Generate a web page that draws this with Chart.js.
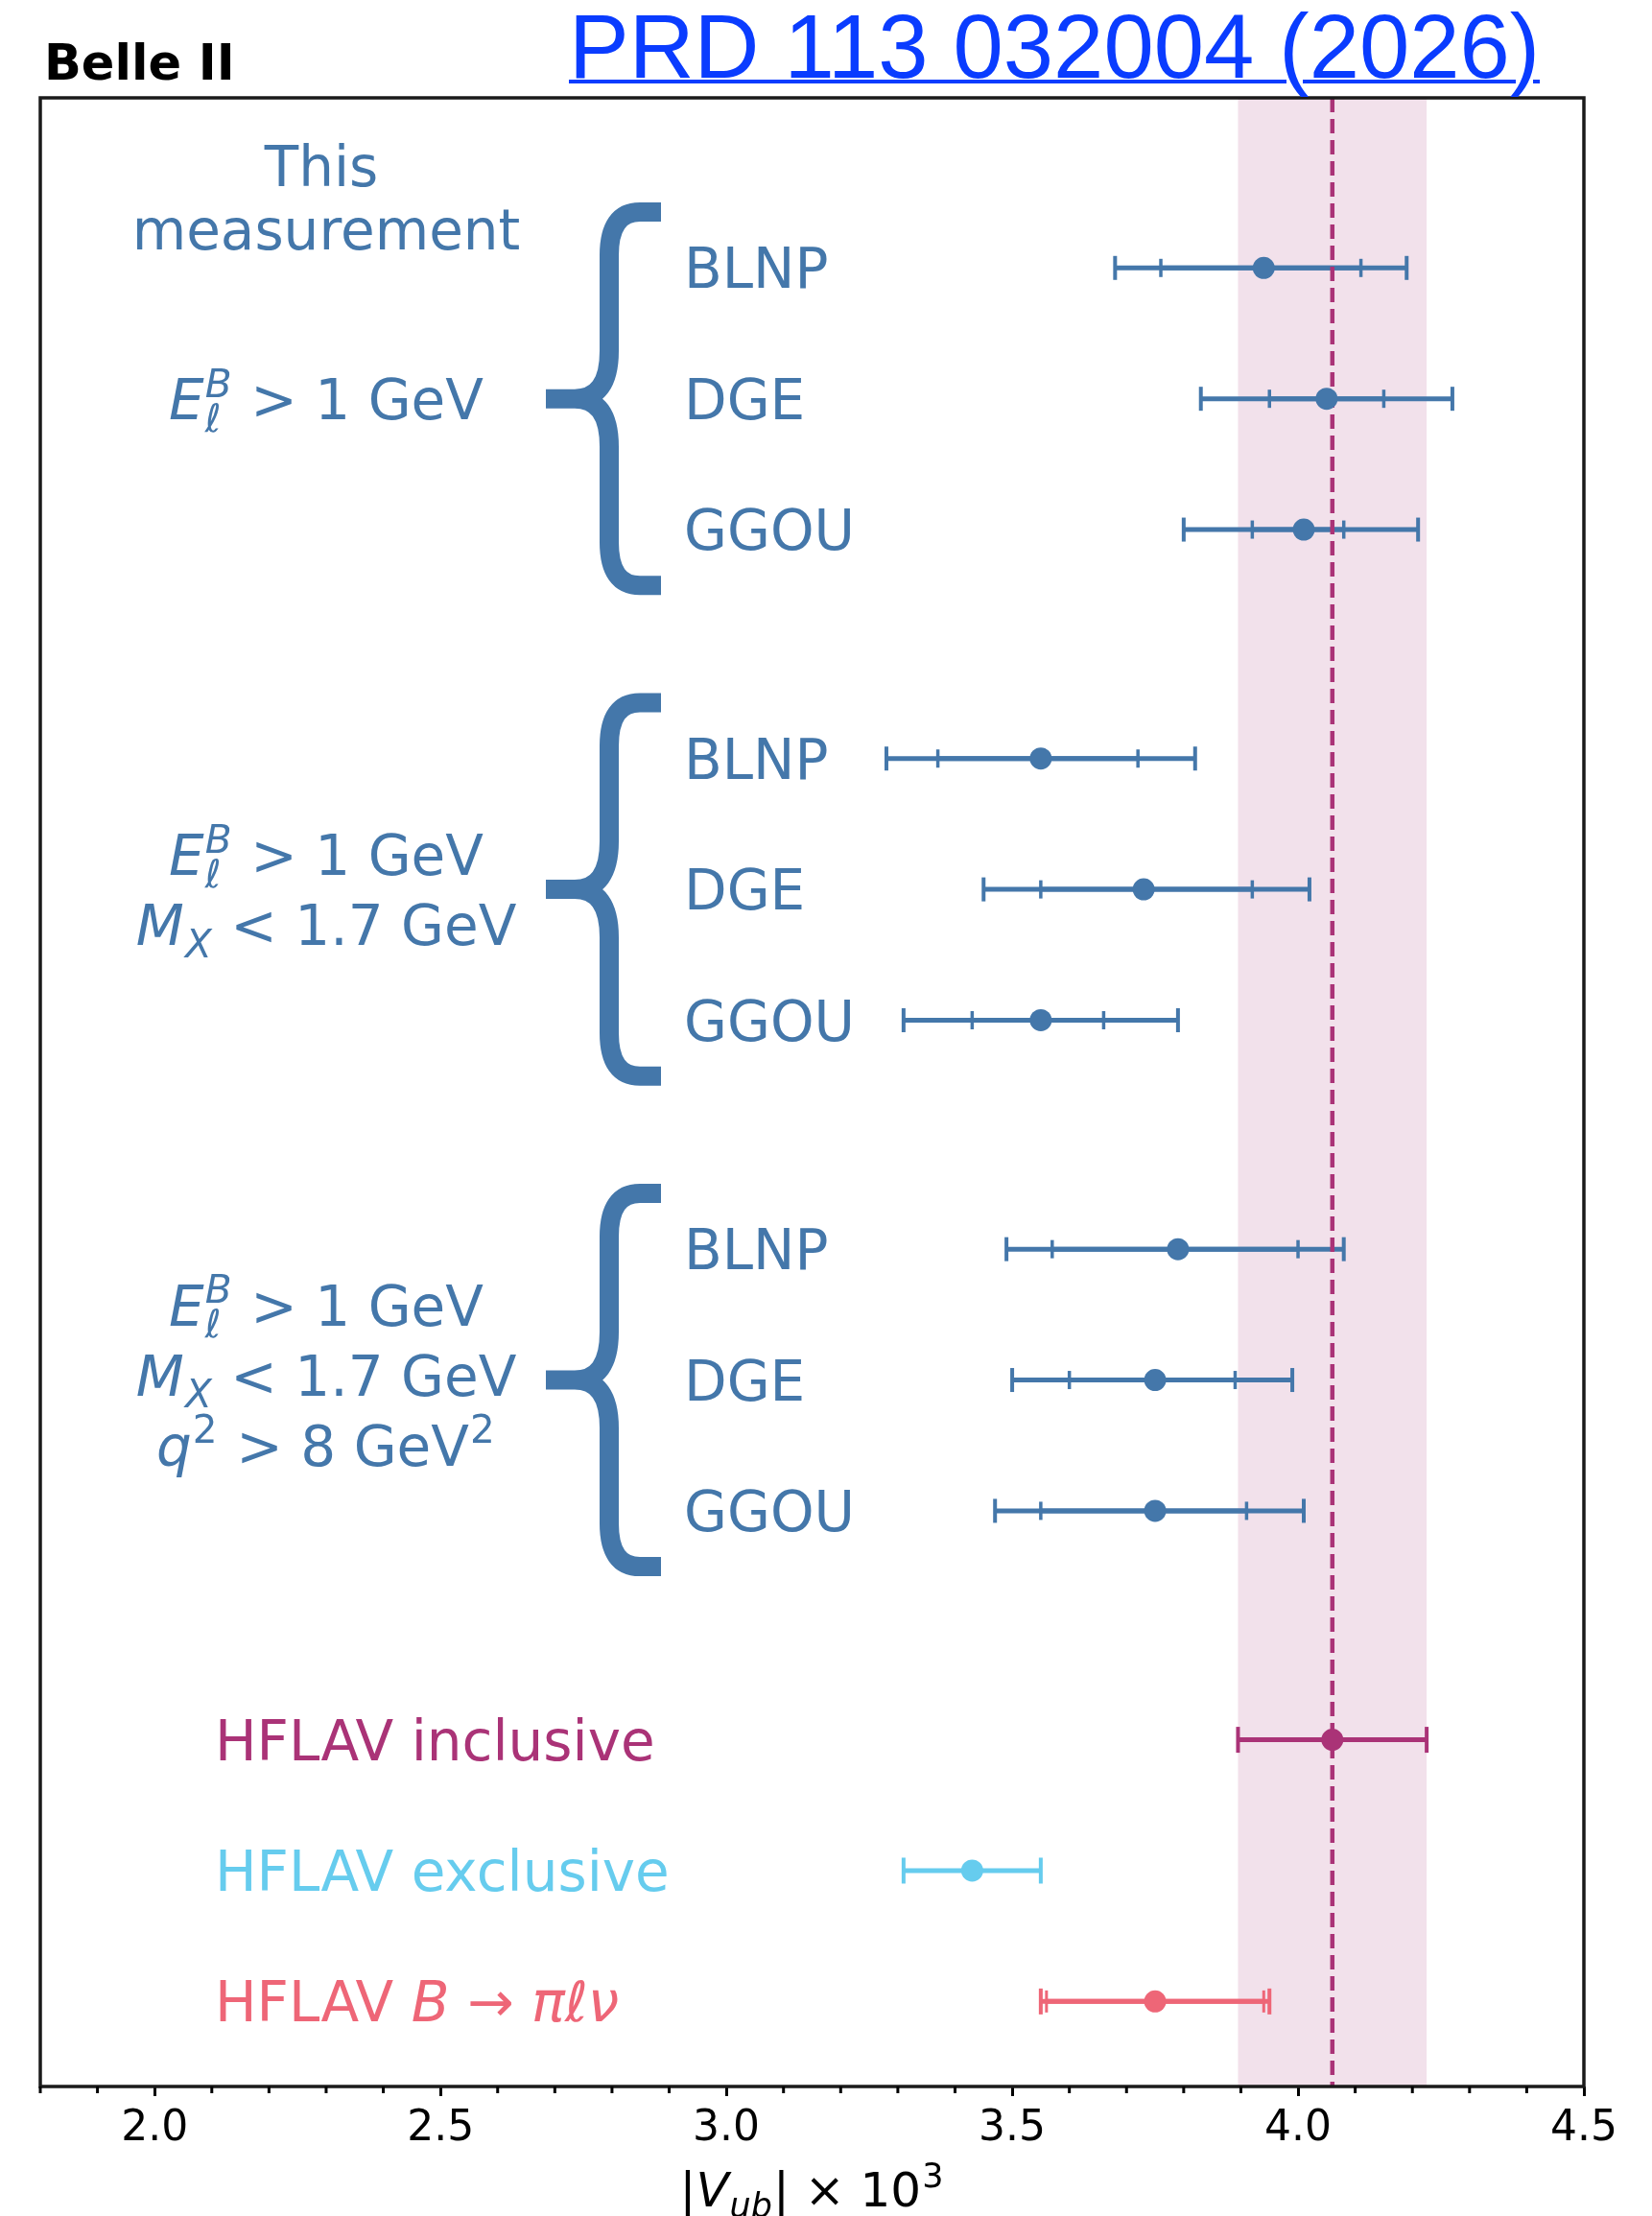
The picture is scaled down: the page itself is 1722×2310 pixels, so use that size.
<!DOCTYPE html>
<html>
<head>
<meta charset="utf-8">
<script src="https://cdn.jsdelivr.net/npm/chart.js@4.4.1/dist/chart.umd.min.js"></script>
<style>
  html, body { margin: 0; padding: 0; background: #fff; }
  #wrap { position: relative; width: 1722px; height: 2310px; overflow: hidden; }
  #chart { position: absolute; left: 0; top: 0; }
  #ref {
    position: absolute; left: 593px; top: 2px;
    font: 94px 'Liberation Sans', Arial, sans-serif; line-height: 94px;
    color: #0a3cff; text-decoration: underline; text-decoration-thickness: 4px;
    white-space: nowrap;
  }
</style>
</head>
<body>
<div id="wrap">
  <canvas id="chart" width="1722" height="2310"></canvas>
  <a id="ref" href="#">PRD 113 032004 (2026)</a>
</div>
<script>
// rows: 3 selections x 3 methods, then the 3 HFLAV averages
const methods = ['BLNP', 'DGE', 'GGOU'];
const rowPos = [0, 1, 2, 3.75, 4.75, 5.75, 7.5, 8.5, 9.5, 11.25, 12.25, 13.25];

const vubCentral = [3.94, 4.05, 4.01, 3.55, 3.73, 3.55, 3.79, 3.75, 3.75];
const vubTotLo   = [3.68, 3.83, 3.80, 3.28, 3.45, 3.31, 3.49, 3.50, 3.47];
const vubTotHi   = [4.19, 4.27, 4.21, 3.82, 4.02, 3.79, 4.08, 3.99, 4.01];
const vubExpLo   = [3.76, 3.95, 3.92, 3.37, 3.55, 3.43, 3.57, 3.60, 3.55];
const vubExpHi   = [4.11, 4.15, 4.08, 3.72, 3.92, 3.66, 4.00, 3.89, 3.91];

// HFLAV averages
const hflavCentral = [4.06, 3.43, 3.75];
const hflavLo      = [3.895, 3.31, 3.55];
const hflavHi      = [4.225, 3.55, 3.95];
const hflavInnerLo = [null, null, 3.56];
const hflavInnerHi = [null, null, 3.94];

const xMin = 1.8, xMax = 4.5;

const BLUE = '#4477AA', PURPLE = '#AA3377', CYAN = '#66CCEE', RED = '#EE6677';
const hflavColors = [PURPLE, CYAN, RED];
const FONT = '"DejaVu Sans", sans-serif';

// selection labels, as little mathtext-ish segment lists
const E_B = [{ t: 'E', it: true }, { sup: 'B', sub: 'ℓ', it: true }, { t: ' > 1 GeV' }];
const M_X = [{ t: 'M', it: true }, { sub: 'X', it: true }, { t: ' < 1.7 GeV' }];
const Q2 = [{ t: 'q', it: true }, { sup: '2' }, { t: ' > 8 GeV' }, { sup: '2' }];
const selections = [[E_B], [E_B, M_X], [E_B, M_X, Q2]];
const hflavLabels = [
  [{ t: 'HFLAV inclusive' }],
  [{ t: 'HFLAV exclusive' }],
  [{ t: 'HFLAV ' }, { t: 'B', it: true }, { t: ' → ' }, { t: 'πℓν', it: true }]
];

function fontStr(size, it) { return (it ? 'italic ' : '') + size + 'px ' + FONT; }

function segWidth(ctx, s, size) {
  const small = size * 0.7;
  if (s.t !== undefined) { ctx.font = fontStr(size, s.it); return ctx.measureText(s.t).width; }
  let w = 0;
  ctx.font = fontStr(small, s.it);
  if (s.sup) w = Math.max(w, ctx.measureText(s.sup).width);
  if (s.sub) w = Math.max(w, ctx.measureText(s.sub).width);
  return w + size * 0.04;
}

function drawRich(ctx, segs, x, cy, size, color, align) {
  let total = 0;
  segs.forEach(s => { total += segWidth(ctx, s, size); });
  let cx = align === 'center' ? x - total / 2 : x;
  const base = cy + 0.3645 * size;
  ctx.fillStyle = color;
  ctx.textBaseline = 'alphabetic';
  ctx.textAlign = 'left';
  segs.forEach(s => {
    const w = segWidth(ctx, s, size);
    if (s.t !== undefined) {
      ctx.font = fontStr(size, s.it);
      ctx.fillText(s.t, cx, base);
    } else {
      ctx.font = fontStr(size * 0.7, s.it);
      if (s.sup) ctx.fillText(s.sup, cx + size * 0.02, base - size * 0.4);
      if (s.sub) ctx.fillText(s.sub, cx + size * 0.02, base + size * 0.22);
    }
    cx += w;
  });
}

function hbar(ctx, xs, py, lo, hi, color, lw, capH, capW) {
  const x0 = xs.getPixelForValue(lo), x1 = xs.getPixelForValue(hi);
  ctx.strokeStyle = color;
  ctx.lineWidth = lw;
  ctx.beginPath(); ctx.moveTo(x0, py); ctx.lineTo(x1, py); ctx.stroke();
  ctx.lineWidth = capW;
  [x0, x1].forEach(px => {
    ctx.beginPath(); ctx.moveTo(px, py - capH / 2); ctx.lineTo(px, py + capH / 2); ctx.stroke();
  });
}

function brace(ctx, top, bot, mid) {
  const xTip = 689, xStem = 635, xPoint = 569, lw = 20;
  const yT = top + lw / 2, yB = bot - lw / 2;
  ctx.save();
  ctx.strokeStyle = BLUE;
  ctx.lineWidth = lw;
  ctx.lineCap = 'butt';
  ctx.lineJoin = 'round';
  ctx.beginPath();
  ctx.moveTo(xTip, yT);
  ctx.lineTo(xStem + 32, yT);
  ctx.quadraticCurveTo(xStem, yT, xStem, yT + 45);
  ctx.lineTo(xStem, mid - 50);
  ctx.quadraticCurveTo(xStem, mid, xPoint + 30, mid);
  ctx.lineTo(xPoint, mid);
  ctx.moveTo(xPoint + 30, mid);
  ctx.quadraticCurveTo(xStem, mid, xStem, mid + 50);
  ctx.lineTo(xStem, yB - 45);
  ctx.quadraticCurveTo(xStem, yB, xStem + 32, yB);
  ctx.lineTo(xTip, yB);
  ctx.stroke();
  ctx.restore();
}

const isMajor = (v) => Math.abs(v * 2 - Math.round(v * 2)) < 1e-6;

const decor = {
  id: 'decor',
  beforeDatasetsDraw(chart) {
    const { ctx, chartArea: a, scales: { x: xs, y: ys } } = chart;
    ctx.save();
    // HFLAV inclusive band
    const b0 = xs.getPixelForValue(hflavLo[0]), b1 = xs.getPixelForValue(hflavHi[0]);
    ctx.fillStyle = 'rgba(170, 51, 119, 0.15)';
    ctx.fillRect(b0, a.top, b1 - b0, a.bottom - a.top);

    // error bars of this measurement
    vubCentral.forEach((v, i) => {
      const py = ys.getPixelForValue(rowPos[i]);
      hbar(ctx, xs, py, vubTotLo[i], vubTotHi[i], BLUE, 5, 25, 4);
      hbar(ctx, xs, py, vubExpLo[i], vubExpHi[i], BLUE, 5, 19, 3.5);
    });
    // HFLAV error bars
    hflavCentral.forEach((v, i) => {
      const py = ys.getPixelForValue(rowPos[9 + i]);
      hbar(ctx, xs, py, hflavLo[i], hflavHi[i], hflavColors[i], 5, 27, 4);
      if (hflavInnerLo[i] !== null) hbar(ctx, xs, py, hflavInnerLo[i], hflavInnerHi[i], hflavColors[i], 5, 23, 3);
    });

    // dashed line at the inclusive average
    const xl = xs.getPixelForValue(hflavCentral[0]);
    ctx.strokeStyle = PURPLE;
    ctx.lineWidth = 4.5;
    ctx.setLineDash([15, 7]);
    ctx.beginPath(); ctx.moveTo(xl, a.top); ctx.lineTo(xl, a.bottom); ctx.stroke();
    ctx.restore();
  },
  afterDraw(chart) {
    const { ctx, chartArea: a, scales: { x: xs, y: ys } } = chart;
    ctx.save();
    // frame
    ctx.strokeStyle = '#1a1a1a';
    ctx.lineWidth = 3.5;
    ctx.strokeRect(a.left, a.top, a.right - a.left, a.bottom - a.top);

    // minor ticks
    ctx.lineWidth = 3;
    ctx.strokeStyle = '#000';
    xs.ticks.forEach(t => {
      if (isMajor(t.value)) return;
      const px = xs.getPixelForValue(t.value);
      ctx.beginPath(); ctx.moveTo(px, a.bottom); ctx.lineTo(px, a.bottom + 7); ctx.stroke();
    });

    // method labels and braces
    const S = 58;
    methods.forEach((m, k) => {
      for (let g = 0; g < 3; g++) {
        drawRich(ctx, [{ t: m }], 713, ys.getPixelForValue(rowPos[3 * g + k]), S, BLUE, 'left');
      }
    });
    selections.forEach((lines, g) => {
      const mid = ys.getPixelForValue(rowPos[3 * g + 1]);
      const top = ys.getPixelForValue(rowPos[3 * g] - 0.5);
      const bot = ys.getPixelForValue(rowPos[3 * g + 2] + 0.5);
      brace(ctx, top, bot, mid);
      const step = 73;
      const y0 = mid - step * (lines.length - 1) / 2 - (lines.length === 3 ? 5 : 0);
      lines.forEach((segs, j) => drawRich(ctx, segs, 340, y0 + j * step, S, BLUE, 'center'));
    });
    const r0 = ys.getPixelForValue(rowPos[0]);
    drawRich(ctx, [{ t: 'This' }], 335, r0 - 106, S, BLUE, 'center');
    drawRich(ctx, [{ t: 'measurement' }], 340, r0 - 40, S, BLUE, 'center');

    // HFLAV labels
    hflavLabels.forEach((segs, i) => {
      drawRich(ctx, segs, 224, ys.getPixelForValue(rowPos[9 + i]), S, hflavColors[i], 'left');
    });

    // experiment tag
    ctx.fillStyle = '#000';
    ctx.font = 'bold 51px ' + FONT;
    ctx.textAlign = 'left';
    ctx.textBaseline = 'alphabetic';
    ctx.fillText('Belle II', 46, 83);

    // x axis title
    const T = 50;
    const title = [{ t: '|' }, { t: 'V', it: true }, { sub: 'ub', it: true }, { t: '| × 10' }, { sup: '3' }];
    drawRich(ctx, title, (a.left + a.right) / 2, 2300 - 0.3645 * T, T, '#000', 'center');
    ctx.restore();
  }
};

Chart.defaults.font.family = FONT;

new Chart(document.getElementById('chart'), {
  type: 'scatter',
  data: {
    datasets: [
      {
        label: 'This measurement',
        data: vubCentral.map((v, i) => ({ x: v, y: rowPos[i] })),
        pointRadius: 11.5,
        pointBorderWidth: 0,
        backgroundColor: BLUE
      },
      {
        label: 'HFLAV',
        data: hflavCentral.map((v, i) => ({ x: v, y: rowPos[9 + i] })),
        pointRadius: 11.5,
        pointBorderWidth: 0,
        backgroundColor: hflavColors
      }
    ]
  },
  options: {
    responsive: false,
    animation: false,
    devicePixelRatio: 1,
    layout: { padding: { left: 42, right: 71, top: 102, bottom: 0 } },
    scales: {
      x: {
        type: 'linear',
        min: xMin,
        max: xMax,
        afterFit: (scale) => { scale.height = 135; },
        border: { display: false },
        grid: {
          drawOnChartArea: false,
          drawTicks: true,
          tickLength: 10,
          tickWidth: 3,
          tickColor: (c) => (c.tick && isMajor(c.tick.value)) ? '#000' : 'rgba(0,0,0,0)'
        },
        ticks: {
          stepSize: 0.1,
          maxTicksLimit: 100,
          autoSkip: false,
          maxRotation: 0,
          padding: 8,
          color: '#000',
          font: { size: 44 },
          callback: (v) => isMajor(v) ? Number(v).toFixed(1) : ''
        }
      },
      y: {
        type: 'linear',
        display: false,
        reverse: true,
        min: -1.3,
        max: 13.9
      }
    },
    plugins: {
      legend: { display: false },
      tooltip: { enabled: false }
    }
  },
  plugins: [decor]
});
</script>
</body>
</html>
